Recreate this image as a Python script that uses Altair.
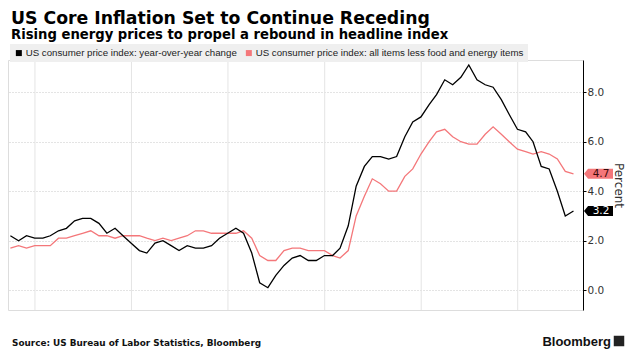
import altair as alt
import pandas as pd

# ---- data ----
months = pd.date_range("2017-09-30", "2023-07-31", freq="ME").strftime("%Y-%m-%d").tolist()

headline = [2.2, 2.0, 2.2, 2.1,
            2.1, 2.2, 2.4, 2.5, 2.8, 2.9, 2.9, 2.7, 2.3, 2.5, 2.2, 1.9,
            1.6, 1.5, 1.9, 2.0, 1.8, 1.6, 1.8, 1.7, 1.7, 1.8, 2.1, 2.3,
            2.5, 2.3, 1.5, 0.3, 0.1, 0.6, 1.0, 1.3, 1.4, 1.2, 1.2, 1.4,
            1.4, 1.7, 2.6, 4.2, 5.0, 5.4, 5.4, 5.3, 5.4, 6.2, 6.8, 7.0,
            7.5, 7.9, 8.5, 8.3, 8.6, 9.1, 8.5, 8.3, 8.2, 7.7, 7.1, 6.5,
            6.4, 6.0, 5.0, 4.9, 4.0, 3.0, 3.2]

core = [1.7, 1.8, 1.7, 1.8,
        1.8, 1.8, 2.1, 2.1, 2.2, 2.3, 2.4, 2.2, 2.2, 2.1, 2.2, 2.2,
        2.2, 2.1, 2.0, 2.1, 2.0, 2.1, 2.2, 2.4, 2.4, 2.3, 2.3, 2.3,
        2.3, 2.4, 2.1, 1.4, 1.2, 1.2, 1.6, 1.7, 1.7, 1.6, 1.6, 1.6,
        1.4, 1.3, 1.6, 3.0, 3.8, 4.5, 4.3, 4.0, 4.0, 4.6, 4.9, 5.5,
        6.0, 6.4, 6.5, 6.2, 6.0, 5.9, 5.9, 6.3, 6.6, 6.3, 6.0, 5.7,
        5.6, 5.5, 5.6, 5.5, 5.3, 4.8, 4.7]

series_names = ["US consumer price index: year-over-year change",
                "US consumer price index: all items less food and energy items"]
series_colors = ["#000000", "#f4777a"]

last_labels = ["3.2", "4.7"]
last_values = [3.2, 4.7]
tag_text_colors = ["#ffffff", "#3a0a0a"]

year_starts = ["2018-01-01", "2019-01-01", "2020-01-01", "2021-01-01", "2022-01-01", "2023-01-01"]
year_label_dates = [(2018, 7, 1), (2019, 7, 1), (2020, 7, 1), (2021, 7, 1), (2022, 7, 1), (2023, 5, 4)]

title_text = "US Core Inflation Set to Continue Receding"
subtitle_text = "Rising energy prices to propel a rebound in headline index"
source_text = "Source: US Bureau of Labor Statistics, Bloomberg"
brand_text = "Bloomberg"

# ---- tables ----
df = pd.DataFrame({
    "date": months * 2,
    "value": core + headline,
    "series": [series_names[1]] * len(core) + [series_names[0]] * len(headline),
})
tags = pd.DataFrame({"series": series_names, "value": last_values,
                     "label": last_labels, "tcolor": tag_text_colors})
years = pd.DataFrame({"d": year_starts})

W, H = 575, 250

xscale = alt.Scale(type="utc", domain=[alt.DateTime(year=2017, month=9, date=21, utc=True),
                                       alt.DateTime(year=2023, month=9, date=5, utc=True)])
yscale = alt.Scale(domain=[-0.8, 9.3], nice=False, zero=False)
cscale = alt.Scale(domain=series_names, range=series_colors)

legend = alt.Legend(orient="none", legendX=2, legendY=-16, direction="horizontal",
                    title=None, fillColor="#efefef", padding=4,
                    symbolType="square", symbolSize=36, symbolStrokeWidth=0,
                    labelFont="Liberation Sans", labelFontSize=9.7,
                    labelColor="#222222", columnPadding=7, labelLimit=400, labelOffset=2)

grid = alt.Chart(years).mark_rule(color="#e4e4e4", strokeWidth=1).encode(
    x=alt.X("d:T", scale=xscale, axis=None)
)

tag_shape = "M -1 0 L -0.72 -0.345 L 1 -0.345 L 1 0.345 L -0.72 0.345 Z"
tag_boxes = alt.Chart(tags).mark_point(shape=tag_shape, filled=True, size=841, opacity=1).encode(
    x=alt.value(590.5),
    y=alt.Y("value:Q", scale=yscale),
    color=alt.Color("series:N", scale=cscale, legend=legend),
)

lines = alt.Chart(df).mark_line(strokeWidth=1.3).encode(
    x=alt.X("date:T", scale=xscale,
            axis=alt.Axis(values=[alt.DateTime(year=y, month=m, date=d, utc=True) for y, m, d in year_label_dates],
                          format="%Y", title=None, ticks=False, tickSize=0, domain=False, grid=False,
                          labelFont="DejaVu Sans", labelFontSize=10, labelColor="#333333",
                          labelPadding=16)),
    y=alt.Y("value:Q", scale=yscale,
            axis=alt.Axis(orient="right", values=[0, 2, 4, 6, 8], format=".1f", title="Percent",
                          titleFont="DejaVu Sans", titleFontSize=12, titleFontWeight="normal",
                          titleColor="#333333", titlePadding=8,
                          labelFont="DejaVu Sans", labelFontSize=10.5, labelColor="#333333",
                          labelPadding=1, tickSize=3, tickColor="#000000",
                          domainColor="#000000", domainWidth=1,
                          gridColor="#c8c8c8", gridDash=[1, 2], gridWidth=1)),
    color=alt.Color("series:N", scale=cscale, legend=legend),
)

tag_text = alt.Chart(tags).mark_text(font="DejaVu Sans", fontSize=10.5, align="center",
                                     baseline="middle").encode(
    x=alt.value(593),
    y=alt.Y("value:Q", scale=yscale),
    text="label:N",
    fill=alt.Fill("tcolor:N", scale=None),
)

source = alt.Chart(pd.DataFrame({"t": [source_text]})).mark_text(
    align="left", baseline="alphabetic", font="DejaVu Sans", fontWeight="bold", fontSize=8.9,
    color="#111111").encode(text="t:N", x=alt.value(4), y=alt.value(286))
brand = alt.Chart(pd.DataFrame({"t": [brand_text]})).mark_text(
    align="right", baseline="alphabetic", font="Liberation Sans", fontWeight="bold", fontSize=13,
    color="#111111").encode(text="t:N", x=alt.value(603), y=alt.value(286))
logo = alt.Chart(pd.DataFrame({"t": [brand_text]})).mark_square(size=110, color="#222222", opacity=1).encode(
    x=alt.value(611), y=alt.value(281))

chart = alt.layer(grid, tag_boxes, lines, tag_text, source, brand, logo).properties(
    width=W, height=H,
    title=alt.TitleParams(text=title_text, subtitle=subtitle_text, anchor="start", frame="group",
                          font="DejaVu Sans", fontSize=17.3, fontWeight="bold", color="#000000",
                          subtitleFont="DejaVu Sans", subtitleFontSize=13.2, subtitleFontWeight="bold",
                          subtitleColor="#000000", subtitlePadding=2, offset=3, dx=3),
    autosize=alt.AutoSizeParams(type="none"),
    padding={"left": 0, "top": 52, "right": 48, "bottom": 40},
).configure_view(stroke=None).configure(background="#ffffff")

chart.save("out.html", embed_options={"renderer": "svg", "actions": False})
